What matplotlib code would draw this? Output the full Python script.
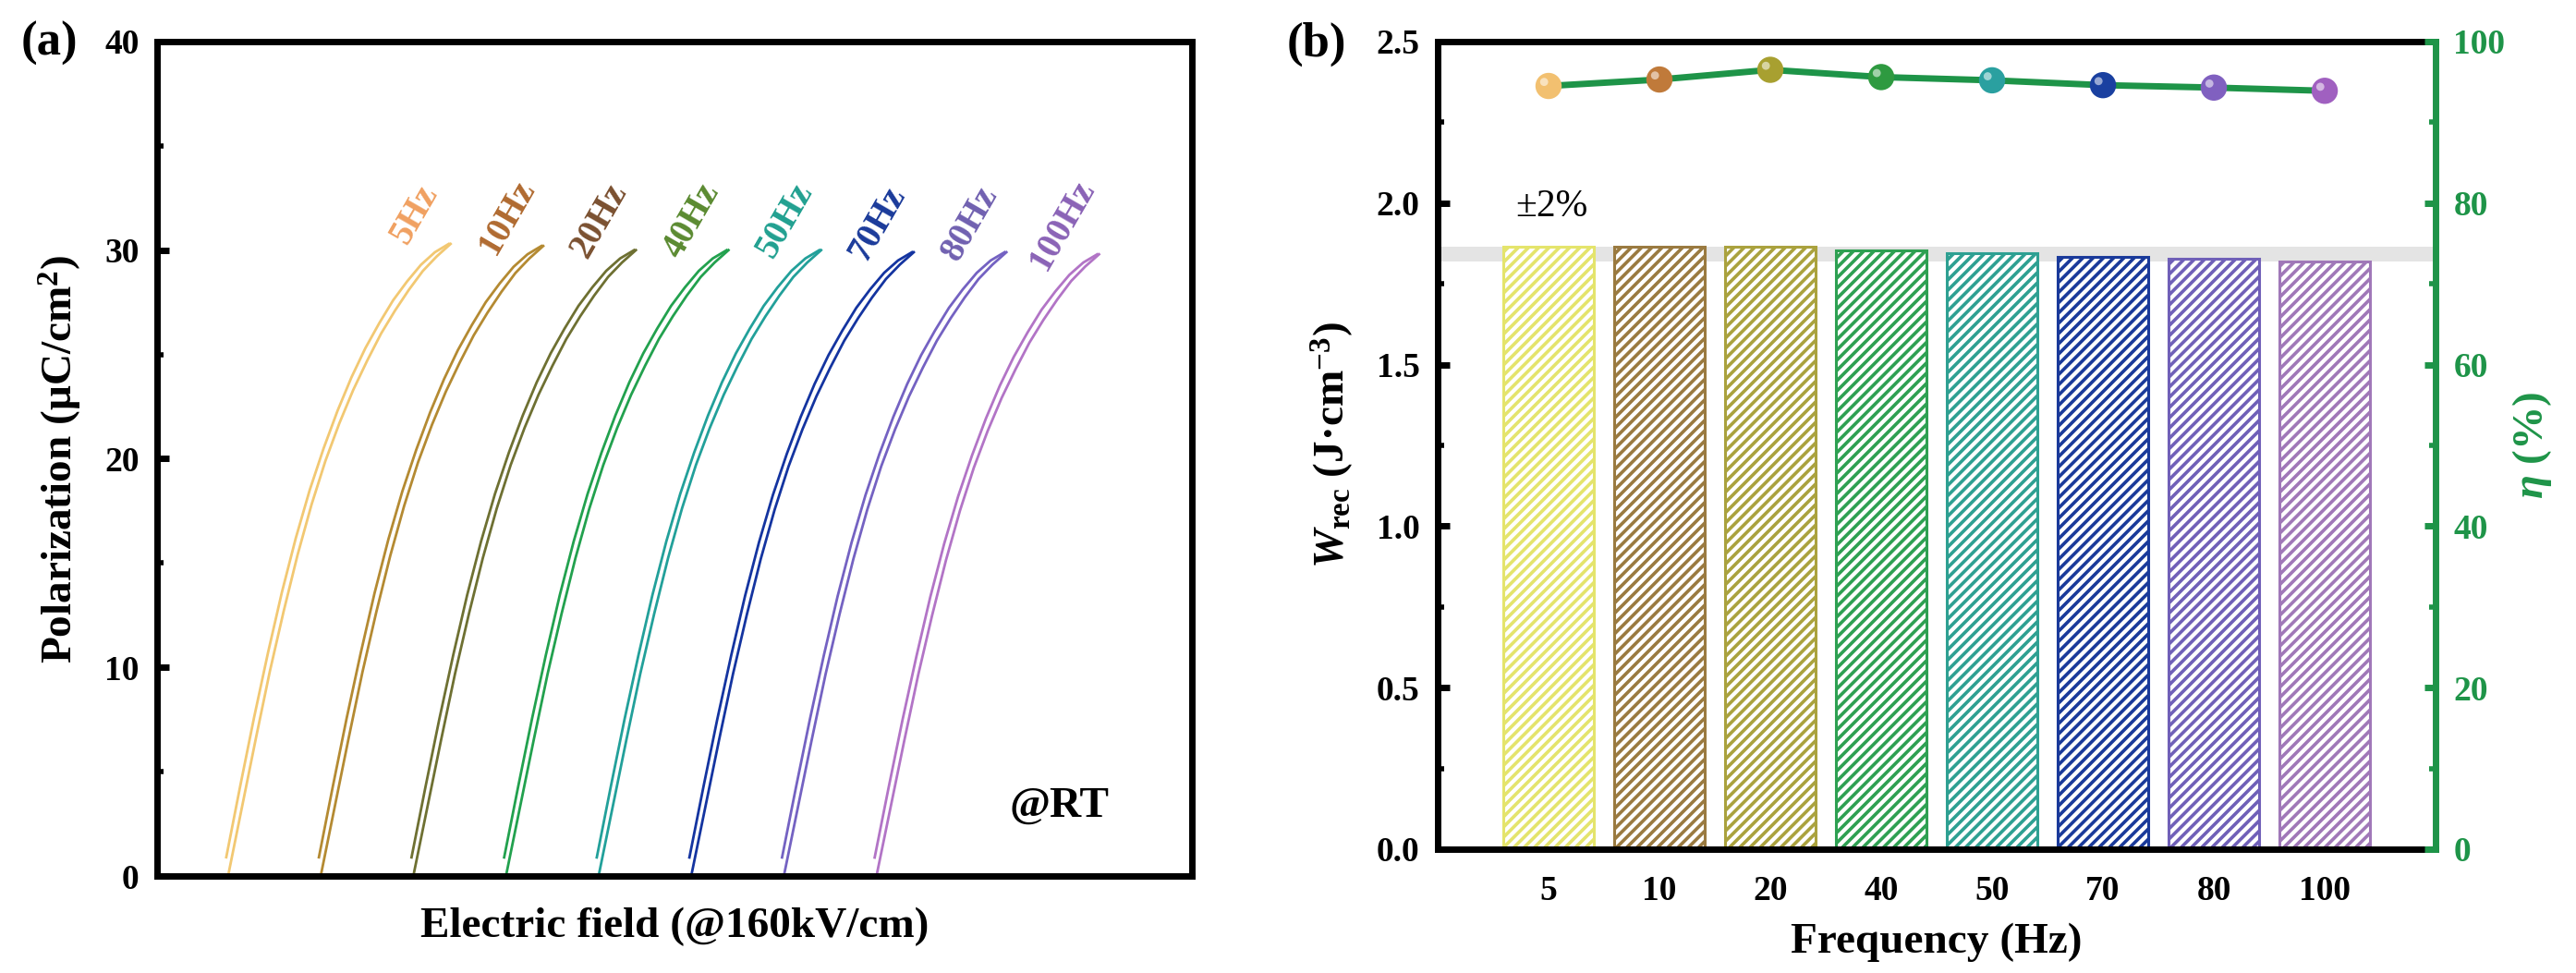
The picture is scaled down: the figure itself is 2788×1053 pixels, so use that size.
import matplotlib
matplotlib.use('Agg')

import numpy as np
import matplotlib.pyplot as plt
from matplotlib.ticker import MultipleLocator

# ---- data ----
freq_labels = ['5Hz', '10Hz', '20Hz', '40Hz', '50Hz', '70Hz', '80Hz', '100Hz']
freq_ticks = ['5', '10', '20', '40', '50', '70', '80', '100']

# unipolar P-E branches, E in kV/cm
e_field = [0, 10, 20, 30, 40, 50, 60, 70, 80, 90, 100, 110, 120, 130, 140, 150, 160]
p_charge = [0.0, 3.3, 6.6, 9.8, 12.7, 15.4, 17.8, 19.9, 21.7, 23.3, 24.7, 26.0, 27.1, 28.1, 29.0, 29.7, 30.3]
p_discharge = [0.9, 4.3, 7.6, 10.7, 13.6, 16.2, 18.5, 20.5, 22.3, 23.9, 25.3, 26.5, 27.6, 28.5, 29.3, 29.9, 30.3]
p_max = [30.3, 30.2, 30.0, 30.0, 30.0, 29.9, 29.9, 29.8]

w_rec = [1.866, 1.865, 1.864, 1.853, 1.845, 1.834, 1.829, 1.820]
eta = [94.5, 95.3, 96.5, 95.6, 95.2, 94.6, 94.3, 93.9]

line_colors = ['#f2c872', '#b48a32', '#6e7032', '#22a14e', '#22a09a', '#1434a0', '#7462c2', '#b274c6']
text_colors = ['#f0a060', '#b06a30', '#7a5030', '#5a8a30', '#20a090', '#1a3a9a', '#7060b0', '#8a62b6']
bar_colors = ['#e4e46c', '#9a7a40', '#aaa23e', '#2ea052', '#2ea092', '#1a3a9a', '#7060b8', '#a078b8']
dot_colors = ['#f2c070', '#c07a3a', '#a8a030', '#2e9a40', '#2aa0a0', '#1a40a0', '#8060c0', '#a060c0']
green = '#1e9448'

plt.rcParams['font.family'] = ['Liberation Serif', 'DejaVu Serif']
plt.rcParams['font.weight'] = 'bold'
plt.rcParams['axes.labelweight'] = 'bold'
plt.rcParams['mathtext.fontset'] = 'custom'
plt.rcParams['mathtext.rm'] = 'Liberation Serif:bold'
plt.rcParams['mathtext.it'] = 'Liberation Serif:italic:bold'
plt.rcParams['mathtext.bf'] = 'Liberation Serif:bold'
plt.rcParams['hatch.linewidth'] = 1.3

fig = plt.figure(figsize=(13.94, 5.265), dpi=200)

# ---------------- (a) ----------------
ax = fig.add_axes([0.0610, 0.0997, 0.4017, 0.8576])
shift0, shift = 51.0, 66.6
for i, lab in enumerate(freq_labels):
    x = np.array(e_field) + shift0 + i * shift
    k = p_max[i] / p_charge[-1]
    ax.plot(x, np.array(p_charge) * k, color=line_colors[i], lw=1.0)
    ax.plot(x - 1.3, np.array(p_discharge) * k, color=line_colors[i], lw=1.0)
    ax.text(x[-1] - 26, p_max[i] + 1.4, lab, color=text_colors[i], fontsize=14,
            rotation=60, ha='center', va='center')

ax.set_xlim(0, 744)
ax.set_ylim(0, 40)
ax.set_xticks([])
ax.yaxis.set_major_locator(MultipleLocator(10))
ax.yaxis.set_minor_locator(MultipleLocator(5))
ax.tick_params(axis='y', which='major', direction='in', length=4.5, width=2.5,
               labelsize=13.5, pad=7)
ax.tick_params(axis='y', which='minor', direction='in', length=2.5, width=2.0)
for s in ax.spines.values():
    s.set_linewidth(2.5)
ax.set_xlabel('Electric field (@160kV/cm)', fontsize=17, labelpad=12)
ax.set_ylabel('Polarization (μC/cm$^{2}$)', fontsize=17, labelpad=8)
ax.text(0.92, 0.083, '@RT', transform=ax.transAxes, fontsize=17, ha='right', va='center')
fig.text(0.019, 0.955, '(a)', fontsize=19, ha='center', va='center')

# ---------------- (b) ----------------
bx = fig.add_axes([0.5581, 0.1273, 0.3874, 0.8300])
pos = np.arange(1, len(freq_ticks) + 1)
bx.axhspan(1.82, 1.866, color='#e4e4e4', zorder=0, lw=0)
bx.bar(pos, w_rec, width=0.82, facecolor='white', edgecolor=bar_colors,
       hatch='//////', linewidth=1.1, zorder=2)
bx.text(1.03, 1.99, '±2%', fontsize=15, fontweight='normal', ha='center', va='center')
bx.set_xlim(0, 9)
bx.set_ylim(0, 2.5)
bx.set_xticks(pos)
bx.set_xticklabels(freq_ticks)
bx.yaxis.set_major_locator(MultipleLocator(0.5))
bx.yaxis.set_minor_locator(MultipleLocator(0.25))
bx.tick_params(axis='x', length=0, labelsize=13.5, pad=10)
bx.tick_params(axis='y', which='major', direction='in', length=4.5, width=2.5,
               labelsize=13.5, pad=7)
bx.tick_params(axis='y', which='minor', direction='in', length=2.5, width=2.0)
for s in bx.spines.values():
    s.set_linewidth(2.5)
bx.spines['right'].set_visible(False)
bx.set_xlabel('Frequency (Hz)', fontsize=17, labelpad=6)
bx.set_ylabel(r'$\mathit{W}_{\mathrm{rec}}$ (J·cm$^{-3}$)', fontsize=17, labelpad=8)

ex = bx.twinx()
ex.plot(pos, eta, color=green, lw=2.5, zorder=3)
ex.scatter(pos, eta, s=85, c=dot_colors, edgecolors=dot_colors, zorder=4)
ex.scatter(pos - 0.04, np.array(eta) + 0.5, s=10, c='white', alpha=0.55,
           edgecolors='none', zorder=5)
ex.set_ylim(0, 100)
ex.yaxis.set_major_locator(MultipleLocator(20))
ex.yaxis.set_minor_locator(MultipleLocator(10))
ex.tick_params(axis='y', which='major', direction='in', length=4.5, width=2.5,
               labelsize=13.5, pad=7, colors=green)
ex.tick_params(axis='y', which='minor', direction='in', length=2.5, width=2.0, colors=green)
for name in ['left', 'top', 'bottom']:
    ex.spines[name].set_visible(False)
ex.spines['right'].set_color(green)
ex.spines['right'].set_linewidth(2.5)
ex.set_ylabel(r'$\eta$ (%)', fontsize=17, color=green, labelpad=2)
fig.text(0.511, 0.955, '(b)', fontsize=19, ha='center', va='center')

fig.savefig('out.png', dpi=200)
